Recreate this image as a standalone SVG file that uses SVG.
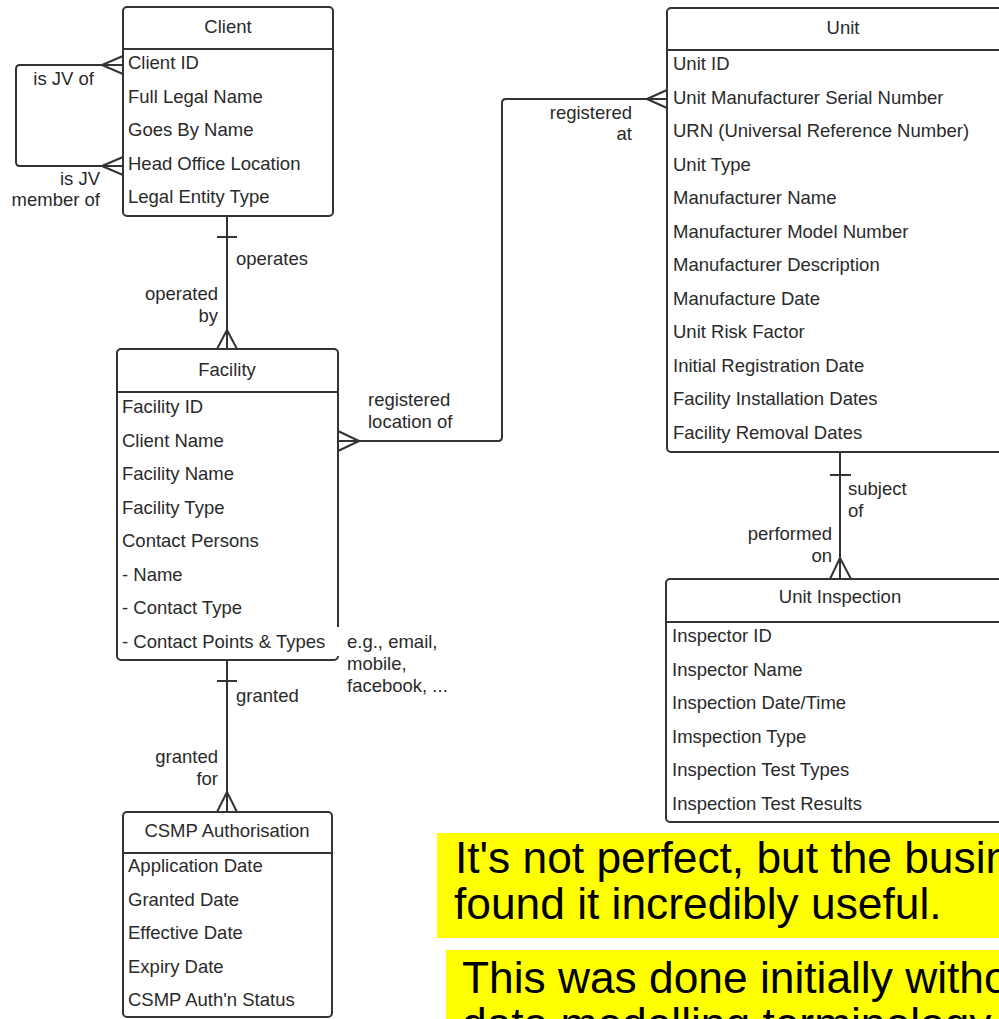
<svg xmlns="http://www.w3.org/2000/svg" width="999" height="1019" viewBox="0 0 999 1019">
<style>
.box{fill:#fff;stroke:#333;stroke-width:2}
.div{stroke:#333;stroke-width:2}
.t{font-family:"Liberation Sans",Arial,sans-serif;font-size:18.5px;fill:#2a2a2a}
.c{text-anchor:middle}
.e{text-anchor:end}
.con{fill:none;stroke:#333;stroke-width:2;stroke-linejoin:round}
.big{font-family:"Liberation Sans",Arial,sans-serif;font-size:44.3px;fill:#000}
</style>
<rect width="999" height="1019" fill="#fff"/>
<g id="connectors">
  <path class="con" d="M227,216 V349 M217,237 H237 M217,349 L227,330 L237,349"/>
  <path class="con" d="M227,660 V812 M217,681 H237 M217,812 L227,792 L237,812"/>
  <path class="con" d="M840,452 V579 M830,475 H851 M830,579 L840,558 L851,579"/>
  <path class="con" d="M123,65 H20 Q16,65 16,69 V162 Q16,166 20,166 H123 M123,56 L102,65 L123,74 M123,157 L102,166 L123,175"/>
  <path class="con" d="M338,441 H498 Q502,441 502,437 V103 Q502,99 506,99 H667 M338,431 L359,441 L338,451 M667,90 L647,99 L667,108"/>
  <g class="t">
    <text x="94" y="85" class="e">is JV of</text>
    <text x="100" y="185" class="e">is JV</text>
    <text x="100" y="206" class="e">member of</text>
    <text x="236" y="265">operates</text>
    <text x="218" y="300" class="e">operated</text>
    <text x="218" y="322" class="e">by</text>
    <text x="236" y="702">granted</text>
    <text x="218" y="763" class="e">granted</text>
    <text x="218" y="785" class="e">for</text>
    <text x="848" y="495">subject</text>
    <text x="848" y="517">of</text>
    <text x="832" y="540" class="e">performed</text>
    <text x="832" y="562" class="e">on</text>
    <text x="632" y="119" class="e">registered</text>
    <text x="632" y="140" class="e">at</text>
    <text x="368" y="406">registered</text>
    <text x="368" y="428">location of</text>
  </g>
</g>
<g id="client">
  <rect class="box" x="123" y="7" width="210" height="209" rx="4"/>
  <line class="div" x1="123" y1="49" x2="333" y2="49"/>
  <g class="t">
    <text x="228" y="33" class="c">Client</text>
    <text x="128" y="69">Client ID</text>
    <text x="128" y="102.5">Full Legal Name</text>
    <text x="128" y="136">Goes By Name</text>
    <text x="128" y="169.5">Head Office Location</text>
    <text x="128" y="203">Legal Entity Type</text>
  </g>
</g>
<g id="facility">
  <rect class="box" x="117" y="349" width="221" height="311" rx="4"/>
  <line class="div" x1="117" y1="392" x2="338" y2="392"/>
  <g class="t">
    <text x="227" y="376" class="c">Facility</text>
    <text x="122" y="413">Facility ID</text>
    <text x="122" y="446.5">Client Name</text>
    <text x="122" y="480">Facility Name</text>
    <text x="122" y="513.5">Facility Type</text>
    <text x="122" y="547">Contact Persons</text>
    <text x="122" y="580.5">- Name</text>
    <text x="122" y="614">- Contact Type</text>
    <text x="122" y="647.5">- Contact Points &amp; Types</text>
  </g>
</g>
<g id="note">
  <rect x="327" y="627" width="18" height="29" fill="#fff"/>
  <g class="t">
    <text x="347" y="648">e.g., email,</text>
    <text x="347" y="670">mobile,</text>
    <text x="347" y="692">facebook, ...</text>
  </g>
</g>
<g id="csmp">
  <rect class="box" x="123" y="812" width="209" height="205" rx="4"/>
  <line class="div" x1="123" y1="853" x2="332" y2="853"/>
  <g class="t">
    <text x="227" y="837" class="c">CSMP Authorisation</text>
    <text x="128" y="872">Application Date</text>
    <text x="128" y="905.5">Granted Date</text>
    <text x="128" y="939">Effective Date</text>
    <text x="128" y="972.5">Expiry Date</text>
    <text x="128" y="1006">CSMP Auth'n Status</text>
  </g>
</g>
<g id="unit">
  <rect class="box" x="667" y="8" width="352" height="444" rx="4"/>
  <line class="div" x1="667" y1="50" x2="1019" y2="50"/>
  <g class="t">
    <text x="843" y="34" class="c">Unit</text>
    <text x="673" y="70">Unit ID</text>
    <text x="673" y="103.5">Unit Manufacturer Serial Number</text>
    <text x="673" y="137">URN (Universal Reference Number)</text>
    <text x="673" y="170.5">Unit Type</text>
    <text x="673" y="204">Manufacturer Name</text>
    <text x="673" y="237.5">Manufacturer Model Number</text>
    <text x="673" y="271">Manufacturer Description</text>
    <text x="673" y="304.5">Manufacture Date</text>
    <text x="673" y="338">Unit Risk Factor</text>
    <text x="673" y="371.5">Initial Registration Date</text>
    <text x="673" y="405">Facility Installation Dates</text>
    <text x="673" y="438.5">Facility Removal Dates</text>
  </g>
</g>
<g id="unit-inspection">
  <rect class="box" x="666" y="579" width="350" height="243" rx="4"/>
  <line class="div" x1="666" y1="622" x2="1016" y2="622"/>
  <g class="t">
    <text x="840" y="603" class="c">Unit Inspection</text>
    <text x="672" y="642">Inspector ID</text>
    <text x="672" y="675.5">Inspector Name</text>
    <text x="672" y="709">Inspection Date/Time</text>
    <text x="672" y="742.5">Imspection Type</text>
    <text x="672" y="776">Inspection Test Types</text>
    <text x="672" y="809.5">Inspection Test Results</text>
  </g>
</g>
<g id="comment-1">
  <rect x="437" y="833" width="562" height="105" fill="#ffff00"/>
  <text class="big" x="455" y="873">It's not perfect, but the business</text>
  <text class="big" x="454" y="919">found it incredibly useful.</text>
</g>
<g id="comment-2">
  <rect x="446" y="950" width="553" height="69" fill="#ffff00"/>
  <text class="big" x="462" y="993">This was done initially without</text>
  <text class="big" x="462" y="1039">data modelling terminology</text>
</g>
</svg>
